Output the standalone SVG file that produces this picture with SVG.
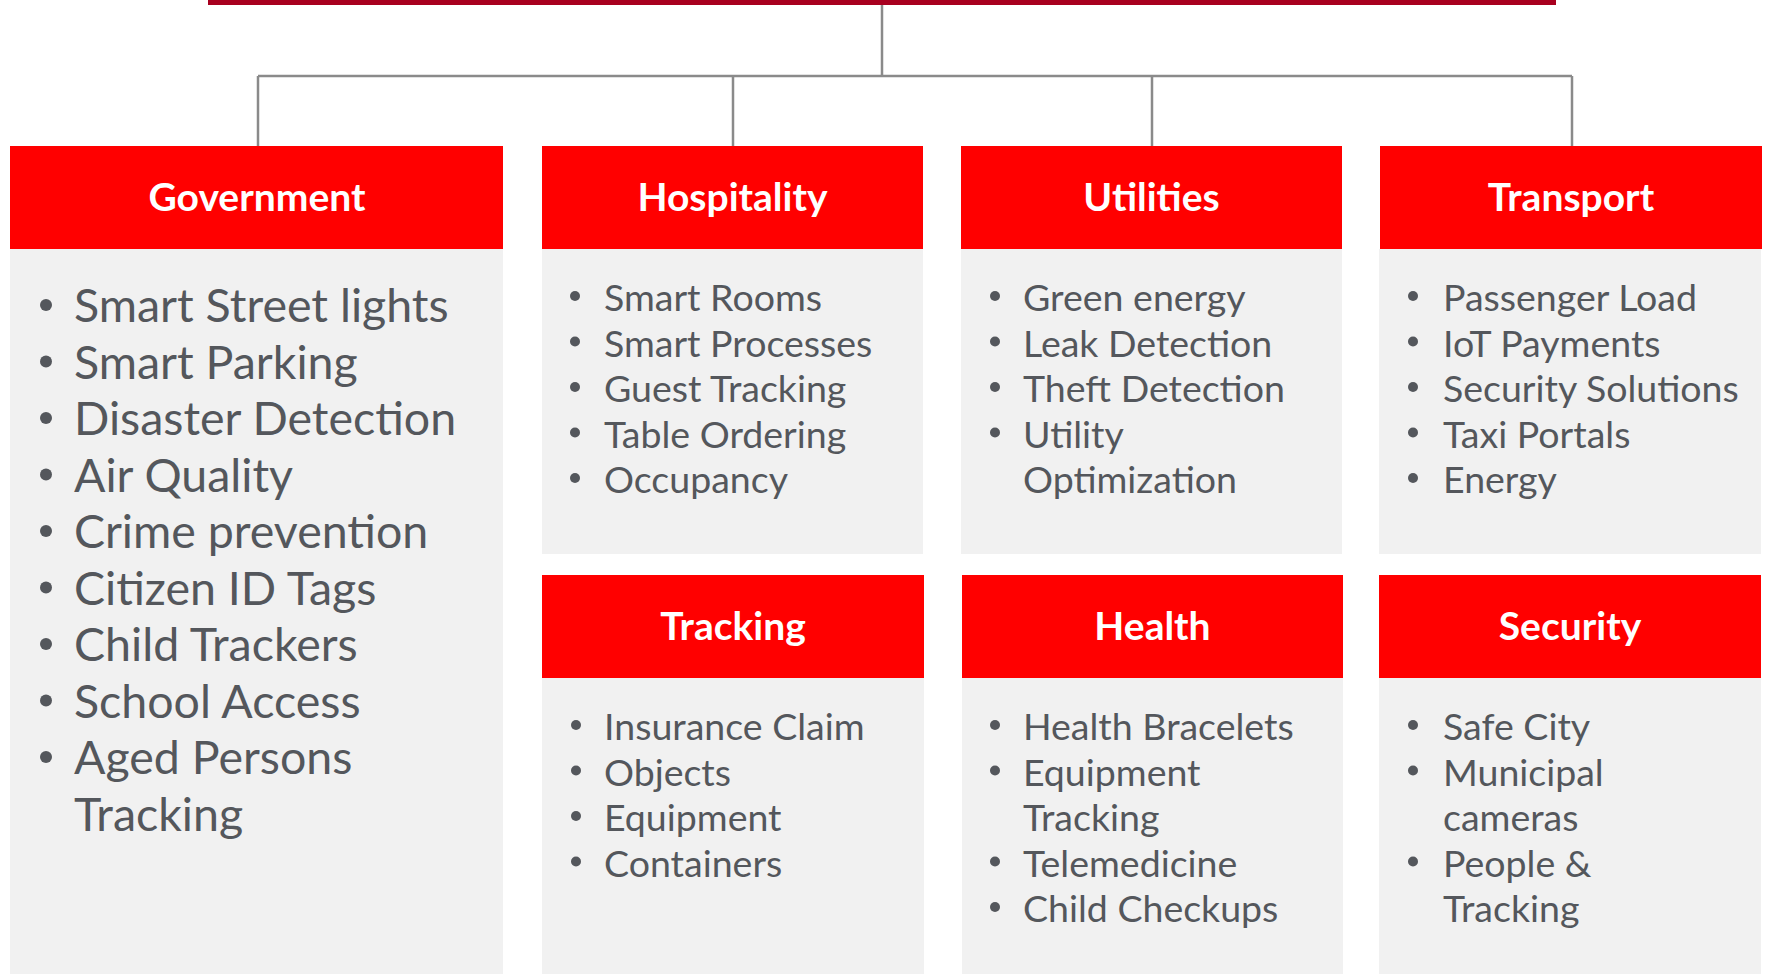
<svg xmlns="http://www.w3.org/2000/svg" width="1765" height="975" viewBox="0 0 1765 975">
<style>
.hdr{fill:#FF0000}
.body{fill:#F1F1F1}
.ht{font-family:Lato,"Liberation Sans",sans-serif;font-weight:700;font-size:39px;fill:#FFFFFF;text-anchor:middle}
.it{font-family:Lato,"Liberation Sans",sans-serif;font-size:37.5px;fill:#54575C}
.itg{font-family:Lato,"Liberation Sans",sans-serif;font-size:46.5px;fill:#54575C}
.b{fill:#54575C}
.conn{stroke:#8A8A8A;stroke-width:2.5;fill:none}
</style>
<rect x="208" y="0" width="1348" height="5" fill="#A8001F"/>
<g id="connectors">
<path class="conn" d="M882 5V76M258 76H1572M258 76V146M733 76V146M1152 76V146M1572 76V146"/>
</g>
<g id="government">
<rect class="body" x="10" y="249" width="493" height="725"/>
<rect class="hdr" x="10" y="146" width="493" height="103"/>
<text class="ht" x="257" y="211">Government</text>
<g class="b">
<circle cx="46" cy="305" r="6"/><circle cx="46" cy="361.5" r="6"/><circle cx="46" cy="418" r="6"/><circle cx="46" cy="474.5" r="6"/><circle cx="46" cy="531" r="6"/><circle cx="46" cy="587.5" r="6"/><circle cx="46" cy="644" r="6"/><circle cx="46" cy="700.5" r="6"/><circle cx="46" cy="757" r="6"/>
</g>
<text class="itg" x="74" y="322">Smart Street lights</text>
<text class="itg" x="74" y="378.5">Smart Parking</text>
<text class="itg" x="74" y="435">Disaster Detection</text>
<text class="itg" x="74" y="491.5">Air Quality</text>
<text class="itg" x="74" y="548">Crime prevention</text>
<text class="itg" x="74" y="604.5">Citizen ID Tags</text>
<text class="itg" x="74" y="661">Child Trackers</text>
<text class="itg" x="74" y="717.5">School Access</text>
<text class="itg" x="74" y="774">Aged Persons</text>
<text class="itg" x="74" y="830.5">Tracking</text>
</g>
<g id="hospitality">
<rect class="body" x="542" y="249" width="381" height="305"/>
<rect class="hdr" x="542" y="146" width="381" height="103"/>
<text class="ht" x="732.5" y="211">Hospitality</text>
<g class="b"><circle cx="575" cy="296" r="5"/><circle cx="575" cy="341.5" r="5"/><circle cx="575" cy="387" r="5"/><circle cx="575" cy="432.5" r="5"/><circle cx="575" cy="478" r="5"/></g>
<text class="it" x="604" y="311">Smart Rooms</text>
<text class="it" x="604" y="356.5">Smart Processes</text>
<text class="it" x="604" y="402">Guest Tracking</text>
<text class="it" x="604" y="447.5">Table Ordering</text>
<text class="it" x="604" y="493">Occupancy</text>
</g>
<g id="utilities">
<rect class="body" x="961" y="249" width="381" height="305"/>
<rect class="hdr" x="961" y="146" width="381" height="103"/>
<text class="ht" x="1151.5" y="211">Utilities</text>
<g class="b"><circle cx="995" cy="296" r="5"/><circle cx="995" cy="341.5" r="5"/><circle cx="995" cy="387" r="5"/><circle cx="995" cy="432.5" r="5"/></g>
<text class="it" x="1023" y="311">Green energy</text>
<text class="it" x="1023" y="356.5">Leak Detection</text>
<text class="it" x="1023" y="402">Theft Detection</text>
<text class="it" x="1023" y="447.5">Utility</text>
<text class="it" x="1023" y="493">Optimization</text>
</g>
<g id="transport">
<rect class="body" x="1379" y="249" width="382" height="305"/>
<rect class="hdr" x="1380" y="146" width="382" height="103"/>
<text class="ht" x="1571" y="211">Transport</text>
<g class="b"><circle cx="1413" cy="296" r="5"/><circle cx="1413" cy="341.5" r="5"/><circle cx="1413" cy="387" r="5"/><circle cx="1413" cy="432.5" r="5"/><circle cx="1413" cy="478" r="5"/></g>
<text class="it" x="1443" y="311">Passenger Load</text>
<text class="it" x="1443" y="356.5">IoT Payments</text>
<text class="it" x="1443" y="402">Security Solutions</text>
<text class="it" x="1443" y="447.5">Taxi Portals</text>
<text class="it" x="1443" y="493">Energy</text>
</g>
<g id="tracking">
<rect class="body" x="542" y="678" width="382" height="296"/>
<rect class="hdr" x="542" y="575" width="382" height="103"/>
<text class="ht" x="733" y="640">Tracking</text>
<g class="b"><circle cx="576" cy="725" r="5"/><circle cx="576" cy="770.5" r="5"/><circle cx="576" cy="816" r="5"/><circle cx="576" cy="861.5" r="5"/></g>
<text class="it" x="604" y="740">Insurance Claim</text>
<text class="it" x="604" y="785.5">Objects</text>
<text class="it" x="604" y="831">Equipment</text>
<text class="it" x="604" y="876.5">Containers</text>
</g>
<g id="health">
<rect class="body" x="962" y="678" width="381" height="296"/>
<rect class="hdr" x="962" y="575" width="381" height="103"/>
<text class="ht" x="1152.5" y="640">Health</text>
<g class="b"><circle cx="995" cy="725" r="5"/><circle cx="995" cy="770.5" r="5"/><circle cx="995" cy="861.5" r="5"/><circle cx="995" cy="907" r="5"/></g>
<text class="it" x="1023" y="740">Health Bracelets</text>
<text class="it" x="1023" y="785.5">Equipment</text>
<text class="it" x="1023" y="831">Tracking</text>
<text class="it" x="1023" y="876.5">Telemedicine</text>
<text class="it" x="1023" y="922">Child Checkups</text>
</g>
<g id="security">
<rect class="body" x="1379" y="678" width="382" height="296"/>
<rect class="hdr" x="1379" y="575" width="382" height="103"/>
<text class="ht" x="1570" y="640">Security</text>
<g class="b"><circle cx="1413" cy="725" r="5"/><circle cx="1413" cy="770.5" r="5"/><circle cx="1413" cy="861.5" r="5"/></g>
<text class="it" x="1443" y="740">Safe City</text>
<text class="it" x="1443" y="785.5">Municipal</text>
<text class="it" x="1443" y="831">cameras</text>
<text class="it" x="1443" y="876.5">People &amp;</text>
<text class="it" x="1443" y="922">Tracking</text>
</g>
</svg>
